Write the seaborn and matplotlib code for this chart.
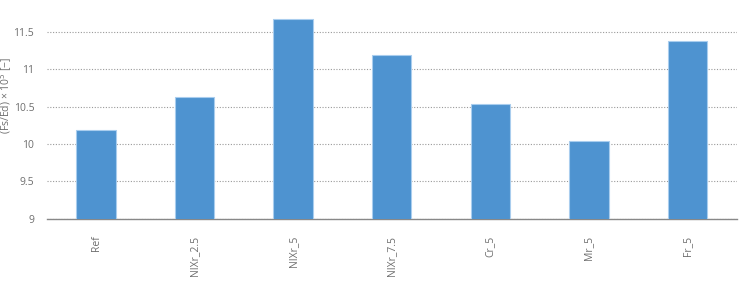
import matplotlib
matplotlib.use("Agg")
import matplotlib.pyplot as plt
import seaborn as sns
import pandas as pd

categories = ["Ref", "NIXr_2.5", "NIXr_5", "NIXr_7.5", "Cr_5", "Mr_5", "Fr_5"]
values = [10.19, 10.63, 11.67, 11.19, 10.54, 10.04, 11.37]
yticks = [9, 9.5, 10, 10.5, 11, 11.5]
ytick_labels = ["9", "9.5", "10", "10.5", "11", "11.5"]

sns.set_style("white")
plt.rcParams['font.family'] = ['Open Sans', 'DejaVu Sans']

df = pd.DataFrame({"cat": categories, "val": values})

fig = plt.figure(figsize=(7.42, 2.88), dpi=100)
ax = fig.add_axes([0.063, 0.24, 0.93, 0.715])

sns.barplot(data=df, x="cat", y="val", color="#4e93d0", saturation=1,
            width=0.4, edgecolor="#a9cdee", linewidth=0.8, ax=ax, zorder=3)

ax.set_ylim(9, 11.75)
ax.set_xlim(-0.5, 6.5)
ax.set_yticks(yticks)
ax.set_yticklabels(ytick_labels)
ax.yaxis.grid(True, linestyle=(0, (1, 1.5)), color="#9a9a9a", linewidth=0.8, zorder=0)
ax.xaxis.grid(False)
for s in ["top", "right", "left"]:
    ax.spines[s].set_visible(False)
ax.spines["bottom"].set_color("#888888")
ax.spines["bottom"].set_linewidth(1.0)
ax.tick_params(axis="both", length=0, labelcolor="#6e6e6e", labelsize=7.5)
ax.tick_params(axis="y", pad=9)
ax.tick_params(axis="x", pad=12)
plt.setp(ax.get_xticklabels(), rotation=90)
ax.set_xlabel("")
ax.set_ylabel("(Fs/Ed) × 10$^{5}$ [−]", color="#6e6e6e", fontsize=7.5)
ax.yaxis.set_label_coords(-0.047, 0.6)

fig.savefig("out.png", dpi=100)
